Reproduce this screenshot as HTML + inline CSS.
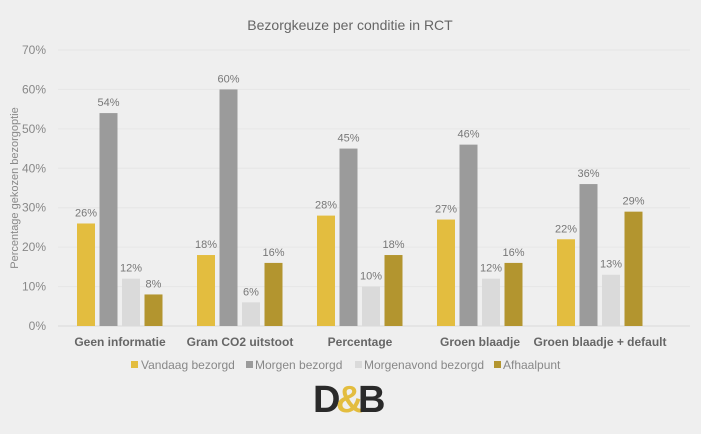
<!DOCTYPE html>
<html><head><meta charset="utf-8"><style>
body{margin:0;background:#efefef;}
svg{display:block;font-family:"Liberation Sans",sans-serif;}
</style></head><body>
<svg width="701" height="434">
<rect width="701" height="434" fill="#efefef"/>
<text x="350" y="30" text-anchor="middle" font-size="14" fill="#666">Bezorgkeuze per conditie in RCT</text>
<text transform="translate(18,188) rotate(-90)" text-anchor="middle" font-size="11" fill="#888">Percentage gekozen bezorgoptie</text>
<g id="grid"></g><g id="bars"></g><g id="xl"></g>
<g font-size="12" fill="#888">
<rect x="131" y="361" width="7" height="7" fill="#e3bd3f"/><text x="141" y="369">Vandaag bezorgd</text>
<rect x="246" y="361" width="7" height="7" fill="#9b9b9b"/><text x="255" y="369">Morgen bezorgd</text>
<rect x="355" y="361" width="7" height="7" fill="#dadada"/><text x="364" y="369">Morgenavond bezorgd</text>
<rect x="494" y="361" width="7" height="7" fill="#b3952f"/><text x="503" y="369">Afhaalpunt</text>
</g>
<g font-size="38" font-weight="bold">
<text x="313" y="412" fill="#2a2a2a">D</text>
<text x="336" y="412" fill="#e3bd3f">&amp;</text>
<text x="358" y="412" fill="#2a2a2a">B</text>
</g>
</svg>
<script>
const categories=["Geen informatie","Gram CO2 uitstoot","Percentage","Groen blaadje","Groen blaadje + default"];
const vandaag=[26,18,28,27,22];
const morgen=[54,60,45,46,36];
const morgenavond=[12,6,10,12,13];
const afhaalpunt=[8,16,18,16,29];
const ticks=[0,10,20,30,40,50,60,70];
const seriesNames=["vandaag","morgen","morgenavond","afhaalpunt"];
const series=[vandaag,morgen,morgenavond,afhaalpunt];
const colors=["#e3bd3f","#9b9b9b","#dadada","#b3952f"];
const NS="http://www.w3.org/2000/svg";
const y=v=>326-v*(276/70);
const xc=i=>120+i*120;
function mk(t,a,p){const e=document.createElementNS(NS,t);for(const k in a)e.setAttribute(k,a[k]);p.appendChild(e);return e;}
const grid=document.getElementById('grid');
ticks.forEach(t=>{
 const l=mk('line',{x1:58,x2:690,y1:y(t),y2:y(t),stroke:t===0?'#d8d8d8':'#e6e6e6','stroke-width':1},grid);
 
 
 const tx=mk('text',{x:46,y:y(t)+4,'text-anchor':'end','font-size':12,fill:'#888'},grid);
 tx.textContent=t+'%';
 
 
});
const bars=document.getElementById('bars');
categories.forEach((c,i)=>{
 series.forEach((s,j)=>{
  const x=xc(i)-43+j*22.5;
  const r=mk('rect',{x:x,y:y(s[i]),width:18,height:y(0)-y(s[i]),fill:colors[j]},bars);
  
  
  const t=mk('text',{x:x+9,y:y(s[i])-7,'text-anchor':'middle','font-size':11,fill:'#777'},bars);
  t.textContent=s[i]+'%';
  
  
 });
 const l=mk('text',{x:xc(i),y:346,'text-anchor':'middle','font-size':12,'font-weight':'bold',fill:'#666'},document.getElementById('xl'));
 l.textContent=c;
 
 
});
</script>
</body></html>
